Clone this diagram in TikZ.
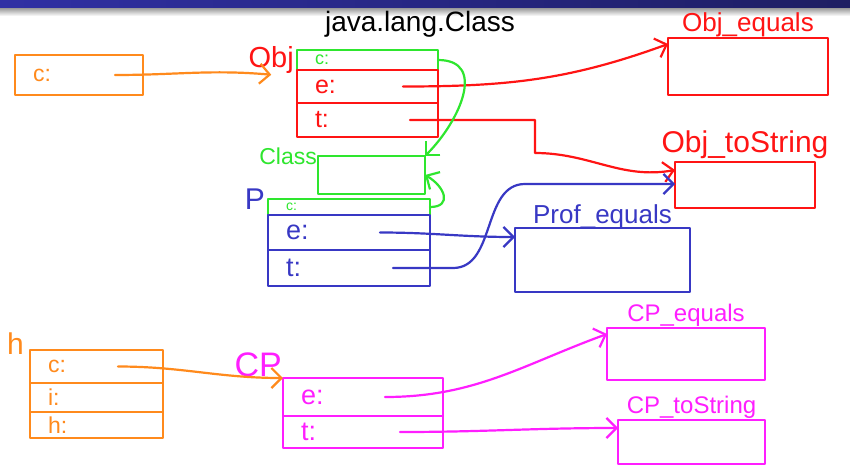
\documentclass[tikz,border=0pt]{standalone}
\usepackage{fontspec}
\setmainfont{Liberation Sans}
\usetikzlibrary{arrows.meta,positioning,calc}
\definecolor{penorange}{HTML}{FF8A1C}
\definecolor{penred}{HTML}{FF1414}
\definecolor{pengreen}{HTML}{2EE62E}
\definecolor{penblue}{HTML}{3838C4}
\definecolor{penpink}{HTML}{FF1EFF}
\definecolor{bannerL}{HTML}{3030A4}
\definecolor{bannerR}{HTML}{1E1E62}

\begin{document}
\begin{tikzpicture}[x=1pt,y=1pt,
  pen/.style={line width=2.2pt,line cap=round,line join=round},
  fs/.style={font=\fontsize{#1}{#1}\selectfont},
  slot/.style={pen,draw,outer sep=0pt,inner xsep=18pt,inner ysep=0pt,align=left,text width=#1,fs=23},
  meth/.style={pen,draw,outer sep=0pt,anchor=north west},
  tag/.style={inner sep=1pt,fs=26},
  ptr/.style={pen,-{Straight Barb[length=10pt,width=20pt]}}]
\useasboundingbox (0,0) rectangle (850,-469);
\fill[white] (0,0) rectangle (850,-469);
\shade[left color=bannerL,right color=bannerR] (0,0) rectangle (850,-8);
\shade[top color=black!40,bottom color=white] (0,-8) rectangle (850,-16);
\node[tag,fs=28] (title) at (420,-24) {java.lang.Class};

\node[slot=92pt,penorange,minimum height=40pt,anchor=north west] (cvar) at (15,-55) {c:};
\coordinate (cvar-p) at ([xshift=-28pt]cvar.east);

\node[slot=105pt,pengreen,minimum height=20pt,anchor=north west,fs=18] (objc) at (297,-50) {c:};
\node[slot=105pt,penred,minimum height=33pt,below=0pt of objc,fs=25] (obje) {e:};
\node[slot=105pt,penred,minimum height=34pt,below=0pt of obje,fs=25] (objt) {t:};
\node[tag,penred,fs=29,anchor=east] (objlbl) at ([xshift=-2pt]objc.west) {Obj};
\coordinate (obje-p) at ([xshift=-35pt]obje.east);
\coordinate (objt-p) at ([xshift=-28pt]objt.east);

\node[meth,pengreen,minimum width=107pt,minimum height=38pt] (cls) at (318,-156) {};
\node[tag,pengreen,fs=23,anchor=east] (clslbl) at (cls.north west) {Class};

\node[slot=126pt,pengreen,minimum height=16pt,anchor=north west,fs=14] (pc) at (268,-199) {c:};
\node[slot=126pt,penblue,minimum height=35pt,below=0pt of pc,fs=27] (pe) {e:};
\node[slot=126pt,penblue,minimum height=36pt,below=0pt of pe,fs=27] (pt) {t:};
\node[tag,penblue,fs=30,anchor=east] (plbl) at ([xshift=-2pt]pc.north west) {P};
\coordinate (pe-p) at ([xshift=-50pt]pe.east);
\coordinate (pt-p) at ([xshift=-37pt]pt.east);

\node[meth,penred,minimum width=160pt,minimum height=57pt] (objeq) at (668,-38) {};
\node[tag,penred,above=0pt of objeq] (objeqlbl) {Obj\_equals};
\node[meth,penred,minimum width=140pt,minimum height=46pt] (objstr) at (675,-162) {};
\node[tag,penred,fs=30,above=2pt of objstr] (objstrlbl) {Obj\_toString};
\node[meth,penblue,minimum width=175pt,minimum height=64pt] (profeq) at (515,-228) {};
\node[tag,penblue,above=-2pt of profeq] (profeqlbl) {Prof\_equals};
\node[meth,penpink,minimum width=158pt,minimum height=52pt] (cpeq) at (607,-328) {};
\node[tag,penpink,fs=24,above=0pt of cpeq] (cpeqlbl) {CP\_equals};
\node[meth,penpink,minimum width=147pt,minimum height=44pt] (cpstr) at (618,-420) {};
\node[tag,penpink,fs=24,above=0pt of cpstr] (cpstrlbl) {CP\_toString};

\node[tag,penorange,fs=30,anchor=south west] (hlbl) at (6,-356) {h};
\node[slot=97pt,penorange,minimum height=33pt,anchor=north west] (hc) at (30,-350) {c:};
\node[slot=97pt,penorange,minimum height=29pt,below=0pt of hc] (hi) {i:};
\node[slot=97pt,penorange,minimum height=26pt,below=0pt of hi] (hh) {h:};
\coordinate (hc-p) at ([xshift=-45pt]hc.east);

\node[slot=124pt,penpink,minimum height=38pt,anchor=north west,fs=27] (cpe) at (283,-378) {e:};
\node[slot=124pt,penpink,minimum height=32pt,below=0pt of cpe,fs=27] (cpt) {t:};
\node[tag,penpink,fs=34,anchor=south east] (cplbl) at (cpe.north west) {CP};
\coordinate (cpe-p) at ([xshift=-58pt]cpe.east);
\coordinate (cpt-p) at ([xshift=-43pt]cpt.east);

\draw[ptr,penorange] (cvar-p) to[out=0,in=175] (objlbl.south);
\draw[ptr,penred] (obje-p) to[out=0,in=200] ([yshift=-6pt]objeq.north west);
\draw[ptr,penred] (objt-p) -- ++(125,0) -- ++(0,-33) to[out=0,in=190] ([yshift=-8pt]objstr.north west);
\draw[ptr,pengreen] (objc.east) to[out=0,in=45,looseness=1.3] (cls.north east);
\draw[ptr,pengreen] (pc.east) to[out=0,in=-30,looseness=1.8] (cls.east);
\draw[ptr,penblue] (pe-p) to[out=0,in=180] ([yshift=-9pt]profeq.north west);
\draw[ptr,penblue] (pt-p) -- ++(60,0) to[out=0,in=180] ([xshift=-150pt,yshift=-22pt]objstr.north west) -- ([yshift=-22pt]objstr.north west);
\draw[ptr,penorange] (hc-p) to[out=0,in=180] (cplbl.south east);
\draw[ptr,penpink] (cpe-p) to[out=0,in=200] ([yshift=-6pt]cpeq.north west);
\draw[ptr,penpink] (cpt-p) to[out=0,in=180] ([yshift=-8pt]cpstr.north west);
\end{tikzpicture}
\end{document}
